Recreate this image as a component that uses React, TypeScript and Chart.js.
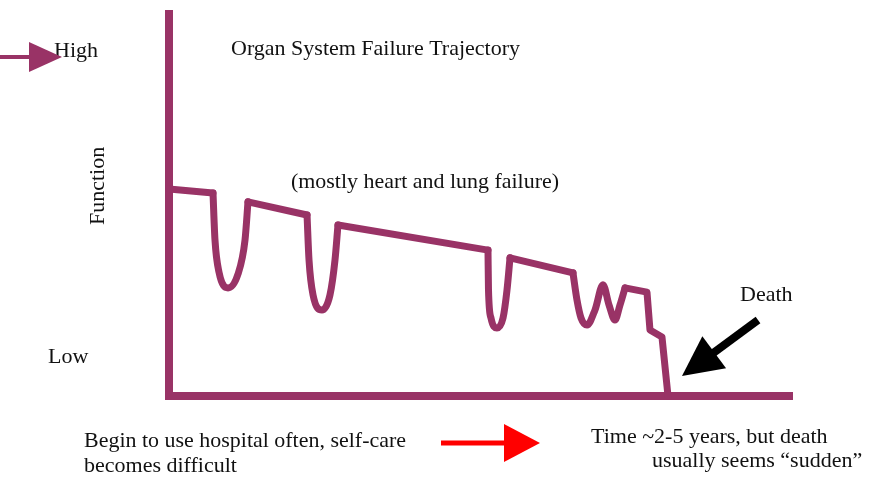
import React, { useEffect, useRef } from "react";
import { Chart, registerables } from "chart.js";

Chart.register(...registerables);

// Trajectory: time (0-100 along the axis) vs function (0 = low, 100 = high)
const timeValues = [
  0, 7.05, 7.37, 8.01, 9.46, 11.06, 12.18, 12.66,
  22.12, 22.44, 23.08, 24.52, 25.8, 26.6, 27.08,
  51.12, 51.2, 51.6, 52.56, 53.53, 54.17, 54.65,
  64.74, 65.38, 66.03, 66.99, 68.27, 69.55, 70.51, 71.47, 72.28, 73.08,
  76.6, 77.08, 79.0, 79.97,
];
const functionValues = [
  53.6, 52.6, 40.4, 32.1, 28.0, 31.6, 40.4, 50.3,
  46.9, 35.2, 26.2, 22.3, 26.2, 35.2, 44.3,
  37.8, 27.5, 20.2, 17.6, 20.2, 27.5, 35.8,
  31.9, 24.9, 20.2, 18.4, 22.3, 28.8, 23.6, 19.7, 23.6, 28.0,
  26.9, 17.1, 15.3, 0,
];
// Index ranges of the acute episodes (dips), drawn as smooth curves
const dipRanges = [
  [1, 7],
  [8, 14],
  [15, 21],
  [22, 31],
];

// Axis frame (drawn as lines through the scales)
const axisTime = [0, 0, 100];
const axisFunction = [100, 0, 0];

// Texts
const titleText = "Organ System Failure Trajectory";
const subtitleText = "(mostly heart and lung failure)";
const yAxisTitle = "Function";
const highLabel = "High";
const lowLabel = "Low";
const deathLabel = "Death";
const leftNote = ["Begin to use hospital often, self-care", "becomes difficult"];
const rightNote = ["Time ~2-5 years, but death", "usually seems \u201Csudden\u201D"];

const PURPLE = "#993366";
const FONT = '22px "Liberation Serif", "Times New Roman", serif';

function arrow(
  ctx: CanvasRenderingContext2D,
  x1: number, y1: number, x2: number, y2: number,
  color: string, width: number, headLen: number, headHalf: number
) {
  const ang = Math.atan2(y2 - y1, x2 - x1);
  const bx = x2 - Math.cos(ang) * headLen;
  const by = y2 - Math.sin(ang) * headLen;
  ctx.save();
  ctx.strokeStyle = color;
  ctx.fillStyle = color;
  ctx.lineWidth = width;
  ctx.lineCap = "butt";
  ctx.beginPath();
  ctx.moveTo(x1, y1);
  ctx.lineTo(bx + Math.cos(ang) * 2, by + Math.sin(ang) * 2);
  ctx.stroke();
  ctx.beginPath();
  ctx.moveTo(x2, y2);
  ctx.lineTo(bx - Math.sin(ang) * headHalf, by + Math.cos(ang) * headHalf);
  ctx.lineTo(bx + Math.sin(ang) * headHalf, by - Math.cos(ang) * headHalf);
  ctx.closePath();
  ctx.fill();
  ctx.restore();
}

const annotationPlugin = {
  id: "annotations",
  afterDatasetsDraw(chart: any) {
    const ctx: CanvasRenderingContext2D = chart.ctx;
    ctx.save();
    ctx.fillStyle = "#111";
    ctx.font = FONT;
    ctx.textBaseline = "alphabetic";
    ctx.textAlign = "left";

    const t = (s: string, x: number, y: number, w: number) => ctx.fillText(s, x, y, w);
    t(titleText, 231, 55, 290);
    t(subtitleText, 291, 188, 268);
    t(highLabel, 54, 57, 47);
    t(lowLabel, 48, 363, 47);
    t(deathLabel, 740, 301, 55);
    t(leftNote[0], 84, 447, 322);
    t(leftNote[1], 84, 472, 154);
    t(rightNote[0], 591, 443, 246);
    t(rightNote[1], 652, 467, 216);

    ctx.save();
    ctx.translate(104, 225);
    ctx.rotate(-Math.PI / 2);
    ctx.fillText(yAxisTitle, 0, 0, 87);
    ctx.restore();

    // arrows
    arrow(ctx, 0, 57, 62, 57, PURPLE, 4, 33, 15);
    arrow(ctx, 441, 443, 540, 443, "#ff0000", 5, 36, 19);
    arrow(ctx, 758, 320, 682, 376, "#000000", 8, 40, 20);
    ctx.restore();
  },
};

function buildCurveDatasets() {
  const pts = timeValues.map((x, i) => ({ x, y: functionValues[i] }));
  const base = {
    borderColor: PURPLE,
    borderWidth: 7,
    pointRadius: 0,
    borderJoinStyle: "round",
    borderCapStyle: "round",
    fill: false,
    clip: false,
  };
  const sets: any[] = [];
  let cursor = 0;
  dipRanges.forEach(([a, b]) => {
    if (a > cursor) sets.push({ ...base, label: "plateau", data: pts.slice(cursor, a + 1), tension: 0 });
    sets.push({ ...base, label: "episode", data: pts.slice(a, b + 1), cubicInterpolationMode: "monotone" });
    cursor = b;
  });
  sets.push({ ...base, label: "decline", data: pts.slice(cursor), tension: 0 });
  return sets;
}

export default function App() {
  const canvasRef = useRef<HTMLCanvasElement | null>(null);

  useEffect(() => {
    if (!canvasRef.current) return;
    const chart = new Chart(canvasRef.current, {
      type: "line",
      data: {
        datasets: [
          ...buildCurveDatasets(),
          {
            label: "Axes",
            data: axisTime.map((x, i) => ({ x, y: axisFunction[i] })),
            borderColor: PURPLE,
            borderWidth: 8,
            pointRadius: 0,
            tension: 0,
            borderJoinStyle: "miter",
            borderCapStyle: "butt",
            fill: false,
            clip: false,
          } as any,
        ],
      },
      options: {
        animation: false,
        responsive: false,
        devicePixelRatio: 1,
        layout: { padding: { left: 169, right: 88, top: 10, bottom: 92 } },
        plugins: { legend: { display: false }, tooltip: { enabled: false } },
        scales: {
          x: { type: "linear", min: 0, max: 100, display: false },
          y: { type: "linear", min: 0, max: 100, display: false },
        },
      },
      plugins: [annotationPlugin],
    });
    return () => chart.destroy();
  }, []);

  return (
    <div style={{ position: "fixed", left: 0, top: 0, width: 881, height: 488, background: "#fff" }}>
      <canvas ref={canvasRef} width={881} height={488} style={{ display: "block" }} />
    </div>
  );
}
